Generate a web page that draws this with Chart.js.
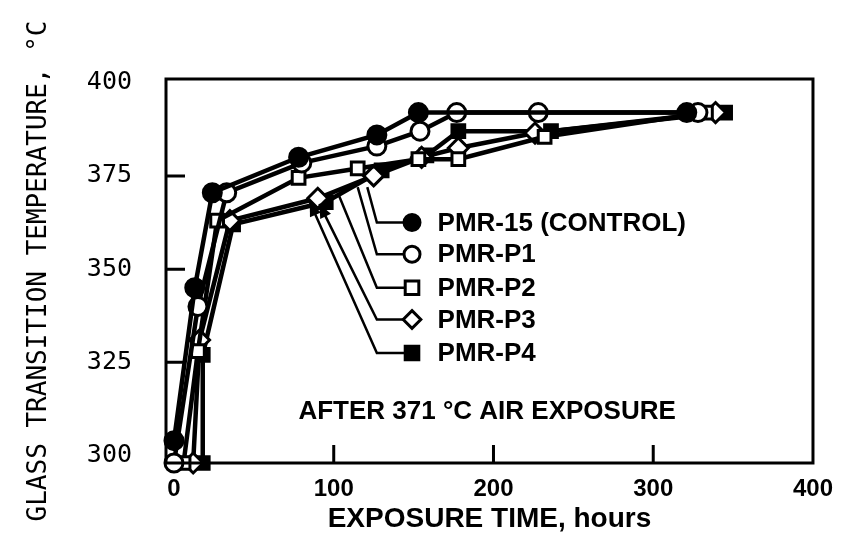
<!DOCTYPE html>
<html>
<head>
<meta charset="utf-8">
<script src="https://cdn.jsdelivr.net/npm/chart.js@4"></script>
<style>
  html, body { margin: 0; padding: 0; background: #fff; }
  #wrap { width: 845px; height: 552px; }
</style>
</head>
<body>
<div id="wrap"><canvas id="tg"></canvas></div>
<script>
// exposure time (hours) and glass transition temperature (deg C) per resin
const seriesNames = ['PMR-15 (CONTROL)', 'PMR-P1', 'PMR-P2', 'PMR-P3', 'PMR-P4']

const hoursP15 = [0, 13, 24, 78, 127, 153, 321]
const tgP15 = [304, 345, 370.5, 380, 386, 392, 392]

const hoursP1 = [0, 15, 33, 80, 127, 154, 177, 228, 328]
const tgP1 = [298, 340, 370.5, 378.5, 383, 387, 392, 392, 392]

const hoursP2 = [6, 15, 27, 78, 115, 153, 178, 232, 333]
const tgP2 = [298, 328, 363, 374.5, 377, 379.5, 379.5, 385.5, 392]

const hoursP3 = [12, 16, 35, 90, 125, 155, 178, 226, 339]
const tgP3 = [298, 331, 363, 369, 375, 380, 382.5, 386.5, 392]

const hoursP4 = [18, 18, 37, 95, 130, 158, 178, 236, 345]
const tgP4 = [298, 327, 362, 368, 376.5, 380.5, 387, 387, 392]

const xTicks = [0, 100, 200, 300, 400]
const yTicks = [300, 325, 350, 375, 400]

// annotation placement, in data units
const legendX = 149
const legendTextX = 165
const legendY = [362.5, 354, 345, 336.5, 327.5]
const leaderCornerX = 127
const leaderEnd = [[121, 372], [115, 372], [103, 370], [91, 367.5], [85, 368]]
const noteText = 'AFTER 371 °C AIR EXPOSURE'
const notePos = [196, 311.8]

const markers = [
    {style: 'circle', fill: '#000'},
    {style: 'circle', fill: '#fff'},
    {style: 'rect', fill: '#fff'},
    {style: 'rectRot', fill: '#fff'},
    {style: 'rect', fill: '#000'},
]

const toPoints = (xs, ys) => xs.map((x, i) => ({x: x, y: ys[i]}))
const allSeries = [
    toPoints(hoursP15, tgP15),
    toPoints(hoursP1, tgP1),
    toPoints(hoursP2, tgP2),
    toPoints(hoursP3, tgP3),
    toPoints(hoursP4, tgP4),
]

const drawMarker = (ctx, m, x, y, r) => {
    ctx.save()
    ctx.fillStyle = m.fill
    ctx.strokeStyle = '#000'
    ctx.lineWidth = 3
    ctx.beginPath()
    if (m.style === 'circle') {
        ctx.arc(x, y, r, 0, Math.PI * 2)
    } else if (m.style === 'rect') {
        ctx.rect(x - r * 0.85, y - r * 0.85, r * 1.7, r * 1.7)
    } else {
        ctx.moveTo(x, y - r * 1.1)
        ctx.lineTo(x + r * 1.1, y)
        ctx.lineTo(x, y + r * 1.1)
        ctx.lineTo(x - r * 1.1, y)
        ctx.closePath()
    }
    ctx.fill()
    ctx.stroke()
    ctx.restore()
}

const decorations = {
    id: 'decorations',
    afterDraw(chart) {
        const {ctx, chartArea: a, scales: {x, y}} = chart
        ctx.save()
        // frame
        ctx.strokeStyle = '#000'
        ctx.lineWidth = 3
        ctx.strokeRect(a.left, a.top, a.right - a.left, a.bottom - a.top)
        // inward tick marks
        ctx.beginPath()
        xTicks.slice(1, -1).forEach(v => {
            const px = x.getPixelForValue(v)
            ctx.moveTo(px, a.bottom)
            ctx.lineTo(px, a.bottom - 18)
        })
        yTicks.slice(1, -1).forEach(v => {
            const py = y.getPixelForValue(v)
            ctx.moveTo(a.left, py)
            ctx.lineTo(a.left + 19, py)
        })
        ctx.stroke()

        // legend with leader lines
        ctx.lineWidth = 2.5
        seriesNames.forEach((name, i) => {
            const mx = x.getPixelForValue(legendX)
            const my = y.getPixelForValue(legendY[i])
            const cx = x.getPixelForValue(leaderCornerX)
            const ex = x.getPixelForValue(leaderEnd[i][0])
            const ey = y.getPixelForValue(leaderEnd[i][1])
            ctx.beginPath()
            ctx.moveTo(mx - 8, my)
            ctx.lineTo(cx, my)
            ctx.lineTo(ex, ey)
            ctx.stroke()
            if (i >= 3) {
                const ang = Math.atan2(ey - my, ex - cx)
                const len = 14, wid = 6
                ctx.beginPath()
                ctx.moveTo(ex, ey)
                ctx.lineTo(ex - len * Math.cos(ang) + wid * Math.sin(ang), ey - len * Math.sin(ang) - wid * Math.cos(ang))
                ctx.lineTo(ex - len * Math.cos(ang) - wid * Math.sin(ang), ey - len * Math.sin(ang) + wid * Math.cos(ang))
                ctx.closePath()
                ctx.fillStyle = '#000'
                ctx.fill()
            }
            drawMarker(ctx, markers[i], mx, my, 8)
            ctx.fillStyle = '#000'
            ctx.font = 'bold 26px "Liberation Sans", Arial, sans-serif'
            ctx.textAlign = 'left'
            ctx.textBaseline = 'middle'
            ctx.fillText(name, x.getPixelForValue(legendTextX), my + 1)
        })

        // exposure note
        ctx.font = 'bold 26px "Liberation Sans", Arial, sans-serif'
        ctx.textAlign = 'center'
        ctx.fillText(noteText, x.getPixelForValue(notePos[0]), y.getPixelForValue(notePos[1]))
        ctx.restore()
    }
}

new Chart(document.getElementById('tg').getContext('2d'), {
    type: 'line',
    data: {
        datasets: allSeries.map((pts, i) => ({
            label: seriesNames[i],
            data: pts,
            borderColor: '#000',
            borderWidth: 4.5,
            pointStyle: markers[i].style,
            pointRadius: markers[i].style === 'rectRot' ? 10 : 9,
            pointBorderWidth: 3,
            pointBorderColor: '#000',
            pointBackgroundColor: markers[i].fill,
            tension: 0,
            clip: false,
        }))
    },
    options: {
        responsive: true,
        maintainAspectRatio: false,
        animation: false,
        layout: {padding: {top: 79, right: 30, left: 0, bottom: 0}},
        plugins: {
            legend: {display: false},
            tooltip: {enabled: false},
        },
        scales: {
            x: {
                type: 'linear',
                min: -5,
                max: 400,
                afterBuildTicks: axis => { axis.ticks = xTicks.map(v => ({value: v})) },
                afterFit: axis => { axis.height = 89 },
                grid: {display: false, drawTicks: false},
                border: {display: false},
                ticks: {
                    color: '#000',
                    padding: 12,
                    font: {family: '"Liberation Sans", Arial, sans-serif', size: 24, weight: 'bold'},
                },
                title: {
                    display: true,
                    text: 'EXPOSURE TIME, hours',
                    color: '#000',
                    padding: {top: 0, bottom: 16},
                    font: {family: '"Liberation Sans", Arial, sans-serif', size: 28, weight: 'bold'},
                },
            },
            y: {
                min: 298,
                max: 401,
                afterBuildTicks: axis => { axis.ticks = yTicks.map(v => ({value: v})) },
                afterFit: axis => { axis.width = 166 },
                grid: {display: false, drawTicks: false},
                border: {display: false},
                ticks: {
                    color: '#000',
                    padding: 34,
                    font: {family: '"DejaVu Sans Mono", monospace', size: 25},
                },
                title: {
                    display: true,
                    text: 'GLASS TRANSITION TEMPERATURE, °C',
                    color: '#000',
                    padding: {top: 24, bottom: 0},
                    font: {family: '"DejaVu Sans Mono", monospace', size: 26},
                },
            },
        },
    },
    plugins: [decorations],
})
</script>
</body>
</html>
